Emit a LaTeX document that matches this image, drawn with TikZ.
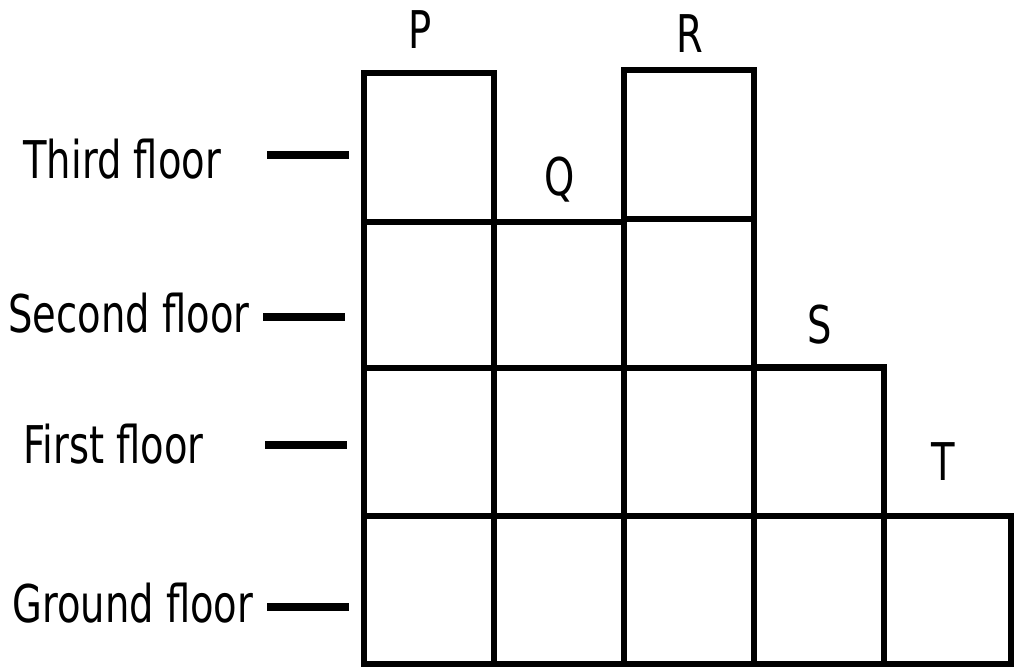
\documentclass[tikz,border=0pt]{standalone}
\usepackage{fontspec}
\setmainfont[FakeStretch=0.74]{DejaVu Sans}

\tikzset{
  block/.style={draw=black, line width=2.8pt},
  tick/.style={line width=3.8pt},
  floorname/.style={anchor=base west, inner sep=0pt, font=\fontsize{26}{30}\selectfont},
  blockname/.style={anchor=base, inner sep=0pt, font=\fontsize{26}{30}\selectfont}
}

\begin{document}
\begin{tikzpicture}[x=0.5pt,y=-0.5pt]
  \useasboundingbox (0,0) rectangle (1014,669);

  % floors on the left
  \node[floorname] (third)  at (23,178) {Third floor};
  \node[floorname] (second) at (8,332)  {Second floor};
  \node[floorname] (first)  at (23,463) {First floor};
  \node[floorname] (ground) at (12,622) {Ground floor};

  \coordinate (t3) at (267,155);
  \coordinate (t2) at (263,317);
  \coordinate (t1) at (265,445);
  \coordinate (t0) at (267,607);
  \foreach \t in {t3,t2,t1,t0}
    \draw[tick] (\t) -- ++(82,0);

  % columns of flats
  \draw[block] (364,73)  rectangle (494,664);
  \draw[block] (494,222) rectangle (624,664);
  \draw[block] (624,70)  rectangle (754,664);
  \draw[block] (754,367) rectangle (884,664);
  \draw[block] (884,516) rectangle (1011,664);

  \draw[block] (364,222) -- (494,222);
  \draw[block] (624,219) -- (754,219);
  \draw[block] (364,368) -- (884,368);
  \draw[block] (364,516) -- (1011,516);

  % building names
  \node[blockname] (P) at (420,48)  {P};
  \node[blockname] (Q) at (560,195) {Q};
  \node[blockname] (R) at (690,53)  {R};
  \node[blockname] (S) at (820,343) {S};
  \node[blockname] (T) at (943,480) {T};
\end{tikzpicture}
\end{document}
